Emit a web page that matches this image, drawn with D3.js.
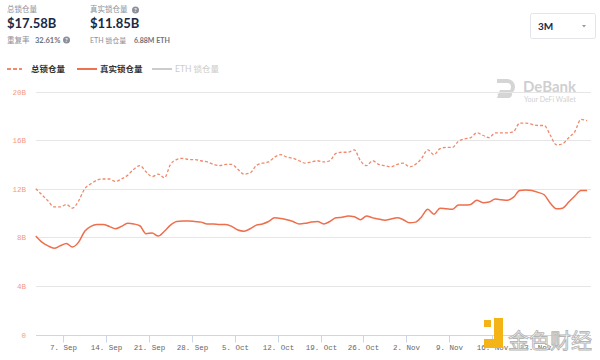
<!DOCTYPE html>
<html><head><meta charset="utf-8">
<script src="https://cdn.jsdelivr.net/npm/d3@7"></script>
<style>
body{margin:0;background:#fff;font-family:"Lato","Noto Sans CJK SC",sans-serif;}
svg{display:block}
</style></head><body>
<svg id="c" width="600" height="360"></svg>
<script>
const startDate = "2020-09-02T12:00:00Z";
const totalTVL = [12.0,11.5,11.0,10.5,10.5,10.7,10.4,11.0,12.0,12.4,12.7,12.8,12.8,12.6,12.8,13.1,13.6,13.9,13.4,13.0,13.2,12.9,14.0,14.4,14.5,14.4,14.4,14.3,14.2,14.0,13.9,14.0,14.0,13.6,13.2,13.3,13.9,14.1,14.2,14.6,14.8,14.6,14.5,14.3,14.1,14.2,14.3,14.2,14.3,14.9,15.0,15.0,15.2,14.3,13.9,14.3,14.0,13.9,13.8,14.0,14.1,13.8,14.0,14.5,15.2,14.8,15.3,15.4,15.4,15.9,16.1,16.2,16.6,16.4,16.2,16.6,16.6,16.6,16.7,17.4,17.4,17.3,17.2,17.2,16.4,15.6,15.7,16.2,16.7,17.7,17.6];
const realTVL = [8.1,7.6,7.3,7.1,7.3,7.5,7.2,7.6,8.5,8.9,9.05,9.05,8.9,8.7,8.9,9.15,9.1,8.95,8.3,8.35,8.1,8.5,9.0,9.3,9.35,9.35,9.3,9.25,9.1,9.1,9.05,9.05,8.9,8.6,8.5,8.7,9.0,9.1,9.3,9.6,9.55,9.45,9.3,9.1,9.15,9.25,9.3,9.1,9.3,9.6,9.65,9.75,9.7,9.45,9.75,9.6,9.5,9.4,9.5,9.6,9.45,9.2,9.25,9.7,10.3,9.9,10.4,10.35,10.3,10.65,10.65,10.7,11.05,10.85,10.9,11.15,11.1,11.05,11.3,11.85,11.9,11.85,11.7,11.5,10.8,10.35,10.4,10.9,11.4,11.85,11.85];
const yTicks = [0,4,8,12,16,20];
const yTickLabels = ["0","4B","8B","12B","16B","20B"];
const xTickDates = ["2020-09-07","2020-09-14","2020-09-21","2020-09-28","2020-10-05","2020-10-12","2020-10-19","2020-10-26","2020-11-02","2020-11-09","2020-11-16","2020-11-23"];
const xTickLabels = ["7. Sep","14. Sep","21. Sep","28. Sep","5. Oct","12. Oct","19. Oct","26. Oct","2. Nov","9. Nov","16. Nov","23. Nov"];
const legendNames = ["总锁仓量","真实锁仓量","ETH 锁仓量"];

const svg = d3.select("#c");
const t0 = new Date(startDate).getTime();
const DAY = 86400000;
const dates = totalTVL.map((_,i)=>new Date(t0+i*DAY));

const x = d3.scaleTime()
  .domain([new Date("2020-09-07T00:00:00Z"), new Date("2020-11-23T00:00:00Z")])
  .range([63.3, 535]);
const y = d3.scaleLinear().domain([0,20]).range([334.5, 91.5]);

// Header
const hdr = svg.append("g");
hdr.append("text").attr("x",7).attr("y",12).attr("font-size",7.5).attr("fill","#8a8f99").text("总锁仓量");
hdr.append("text").attr("x",7).attr("y",28).attr("font-size",13).attr("font-weight","bold").attr("fill","#192945").text("$17.58B");
hdr.append("text").attr("x",7).attr("y",43).attr("font-size",7.5).attr("fill","#8a8f99").text("重复率");
hdr.append("text").attr("x",35).attr("y",43).attr("font-size",7.5).attr("fill","#6b7280").attr("font-weight","bold").text("32.61%");
hdr.append("circle").attr("cx",66.5).attr("cy",40).attr("r",3.5).attr("fill","#8a8f99");
hdr.append("text").attr("x",66.5).attr("y",42.3).attr("font-size",6).attr("fill","#fff").attr("text-anchor","middle").attr("font-weight","bold").text("?");

hdr.append("text").attr("x",90).attr("y",12).attr("font-size",7.5).attr("fill","#8a8f99").text("真实锁仓量");
hdr.append("circle").attr("cx",135.5).attr("cy",10).attr("r",3.5).attr("fill","#8a8f99");
hdr.append("text").attr("x",135.5).attr("y",12.3).attr("font-size",6).attr("fill","#fff").attr("text-anchor","middle").attr("font-weight","bold").text("?");
hdr.append("text").attr("x",90).attr("y",28).attr("font-size",13).attr("font-weight","bold").attr("fill","#192945").text("$11.85B");
hdr.append("text").attr("x",90).attr("y",43).attr("font-size",7).attr("fill","#8a8f99").text("ETH 锁仓量");
hdr.append("text").attr("x",134).attr("y",43).attr("font-size",7).attr("fill","#6b7280").attr("font-weight","bold").text("6.88M ETH");

// Dropdown
svg.append("rect").attr("x",530.5).attr("y",13.5).attr("width",65).attr("height",25).attr("rx",2)
  .attr("fill","#fff").attr("stroke","#e3e5ea");
svg.append("text").attr("x",538).attr("y",30).attr("font-size",10).attr("fill","#192945").attr("font-weight","bold").text("3M");
svg.append("path").attr("d","M582,25 L586,25 L584,27.5 Z").attr("fill","#999");

// Legend
const legColors = ["#f08a6a","#f0714f","#cccccc"];
const lg = svg.append("g");
[[7,22,31],[77,97,100],[152,172,175]].forEach((p,i)=>{
  lg.append("line").attr("x1",p[0]).attr("x2",p[1]).attr("y1",69).attr("y2",69)
    .attr("stroke",legColors[i]).attr("stroke-width",2)
    .attr("stroke-dasharray", i===0 ? "4,2" : null);
  lg.append("text").attr("x",p[2]).attr("y",72).attr("font-size",8.5)
    .attr("fill", i===2 ? "#cccccc" : "#333").attr("font-weight", i===2?"normal":"bold").text(legendNames[i]);
});

// DeBank watermark
const wm = svg.append("g").attr("opacity",0.35);
wm.append("path").attr("d","M497,79 h10 a8,8 0 0 1 0,16 h-10 l4,-4 h6 a4,4 0 0 0 0,-8 h-10 z M500,90 h8 a4,4 0 0 1 0,8 h-11 z").attr("fill","#888");
wm.append("text").attr("x",523).attr("y",92).attr("font-size",15).attr("font-weight","bold").attr("fill","#777").text("DeBank");
wm.append("text").attr("x",524).attr("y",102).attr("font-size",7).attr("fill","#777").text("Your DeFi Wallet");

// Grid
const grid = svg.append("g");
yTicks.forEach((v,i)=>{
  if(v!==0) grid.append("line").attr("x1",36).attr("x2",591).attr("y1",Math.round(y(v))+0.5).attr("y2",Math.round(y(v))+0.5)
    .attr("stroke","#e6e6e6").attr("stroke-width",1);
  grid.append("text").attr("x",26).attr("y",y(v)+3).attr("text-anchor","end")
    .attr("font-family","Liberation Mono, monospace").attr("font-size",7.5).attr("fill","#f29a86").text(yTickLabels[i]);
});

// X axis
const xa = svg.append("g").attr("transform",`translate(0,${Math.round(y(0))+0.5})`);
xa.append("line").attr("x1",36).attr("x2",591).attr("stroke","#ccd6eb");
xTickDates.forEach((d,i)=>{
  const px = Math.round(x(new Date(d+"T00:00:00Z")))+0.5;
  xa.append("line").attr("x1",px).attr("x2",px).attr("y1",0).attr("y2",7).attr("stroke","#ccd6eb");
  xa.append("text").attr("x",px).attr("y",14).attr("text-anchor","middle")
    .attr("font-family","Liberation Mono, monospace").attr("font-size",7.5).attr("fill","#666").text(xTickLabels[i]);
});

// Lines
const line = d3.line().x((d,i)=>x(dates[i])).y(d=>y(d)).curve(d3.curveMonotoneX);
svg.append("path").datum(totalTVL).attr("d",line).attr("fill","none")
  .attr("stroke","#ef8a6c").attr("stroke-width",1.3).attr("stroke-dasharray","3,2");
svg.append("path").datum(realTVL).attr("d",line).attr("fill","none")
  .attr("stroke","#ef6e4c").attr("stroke-width",1.5);

// Bottom-right watermark (金色财经)
const jw = svg.append("g");
jw.append("rect").attr("x",484).attr("y",320).attr("width",7).attr("height",7).attr("fill","#f4b418");
jw.append("path").attr("d","M494,318 h9 v30 h-19 v-9 h10 z").attr("fill","#f4b418");
jw.append("text").attr("x",508).attr("y",348).attr("font-size",21).attr("fill","#fff")
  .attr("stroke","#b5b5b5").attr("stroke-width",0.9).attr("font-family","Noto Sans CJK SC").text("金色财经");
</script>
</body></html>
